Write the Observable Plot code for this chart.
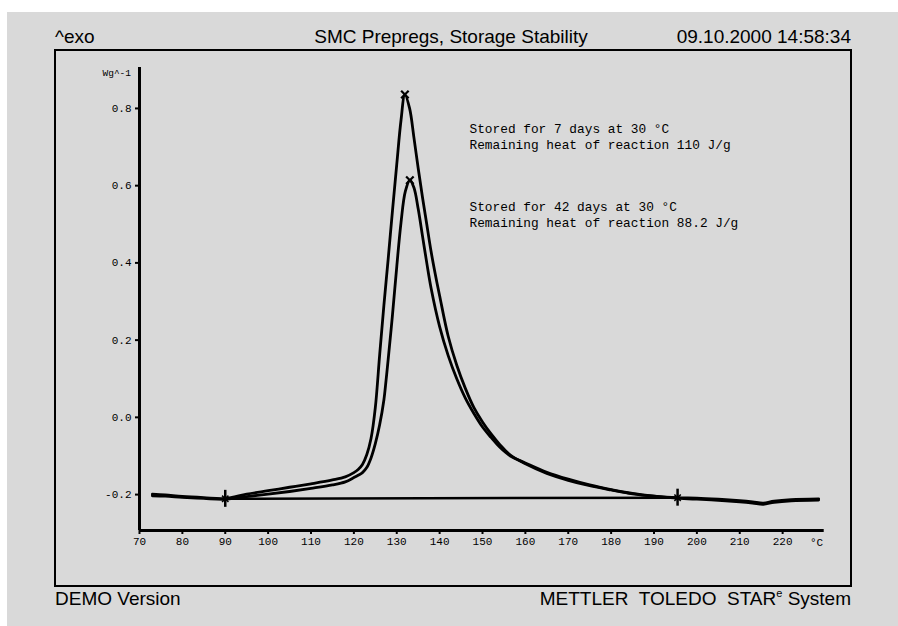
<!DOCTYPE html>
<html><head><meta charset="utf-8">
<script src="https://cdn.jsdelivr.net/npm/d3@7"></script>
<script src="https://cdn.jsdelivr.net/npm/@observablehq/plot@0.6"></script>
<style>
body{margin:0;background:#fff;width:898px;height:626px;overflow:hidden;position:relative;font-family:"Liberation Sans",Arial,sans-serif;color:#000}
#bg{position:absolute;left:7px;top:12px;right:0;bottom:0;background:#d9d9d9}
#frame{position:absolute;left:54px;top:49px;width:794px;height:534px;border:2px solid #000}
.t{position:absolute;font-size:19px;line-height:19px;white-space:pre}
#chart{position:absolute;left:0;top:0}
.unit{position:absolute;font-family:"Liberation Mono",monospace;white-space:pre}
sup{font-size:11px;vertical-align:8px;line-height:0}
</style></head>
<body>
<div id="bg"></div>
<div id="frame"></div>
<div class="t" style="left:55px;top:27px">^exo</div>
<div class="t" style="left:251px;top:27px;width:400px;text-align:center">SMC Prepregs, Storage Stability</div>
<div class="t" style="right:47px;top:27px;text-align:right">09.10.2000 14:58:34</div>
<div class="t" style="left:55px;top:589px">DEMO Version</div>
<div class="t" style="right:47px;top:589px;text-align:right">METTLER  TOLEDO  STAR<sup>e</sup> System</div>
<div id="chart"></div>
<div class="unit" style="right:767px;top:68px;font-size:9.5px">Wg^-1</div>
<div class="unit" style="left:810px;top:537px;font-size:11px">°C</div>
<script>
// Temperature (°C) and heat flow (W/g) — 7 days storage
const tempA = [73, 76, 80, 85, 90, 95, 100, 105, 110, 115, 118, 120, 121, 122, 123, 124, 125, 126, 127, 128, 129, 130, 131, 131.9, 133, 134, 135, 136, 137, 138, 139, 140, 142, 144, 146, 148, 150, 152, 154, 156.5, 160, 165, 170, 175, 180, 185, 190, 195.5, 200, 205, 210, 213, 215.5, 218, 222, 228.4];
const valA  = [-0.199, -0.201, -0.205, -0.208, -0.210, -0.199, -0.190, -0.181, -0.172, -0.162, -0.154, -0.143, -0.135, -0.122, -0.097, -0.055, 0.025, 0.16, 0.29, 0.41, 0.535, 0.655, 0.77, 0.836, 0.80, 0.725, 0.645, 0.57, 0.50, 0.43, 0.37, 0.315, 0.21, 0.135, 0.075, 0.025, -0.012, -0.043, -0.07, -0.098, -0.12, -0.145, -0.163, -0.177, -0.188, -0.198, -0.204, -0.208, -0.209, -0.212, -0.216, -0.219, -0.222, -0.217, -0.213, -0.211];
// 42 days storage
const tempB = [73, 76, 80, 85, 90, 95, 100, 105, 110, 115, 118, 120, 121, 122, 123, 124, 125, 126, 127, 127.5, 128, 129, 130, 131, 132, 133.06, 134, 135, 136, 137, 138, 140, 142, 144, 146, 148, 150, 152, 154, 156.5, 160, 165, 170, 175, 180, 185, 190, 195.5, 200, 205, 210, 213, 215.5, 218, 222, 228.4];
const valB  = [-0.203, -0.204, -0.207, -0.210, -0.212, -0.205, -0.199, -0.192, -0.184, -0.175, -0.167, -0.156, -0.150, -0.143, -0.130, -0.105, -0.068, -0.02, 0.045, 0.095, 0.15, 0.265, 0.39, 0.505, 0.585, 0.614, 0.595, 0.54, 0.47, 0.40, 0.335, 0.235, 0.16, 0.10, 0.05, 0.01, -0.025, -0.052, -0.077, -0.10, -0.118, -0.142, -0.160, -0.175, -0.187, -0.197, -0.204, -0.209, -0.212, -0.215, -0.219, -0.222, -0.225, -0.220, -0.216, -0.214];
// integration limits and peak markers
const limitT = [90, 195.5];
const limitV = [-0.211, -0.208];
const peakT = [131.9, 133.06];
const peakV = [0.836, 0.614];
// axes
const xTicks = [70, 80, 90, 100, 110, 120, 130, 140, 150, 160, 170, 180, 190, 200, 210, 220];
const yTicks = [-0.2, 0.0, 0.2, 0.4, 0.6, 0.8];
const xExtent = [70, 229.7];
const yExtent = [-0.293, 0.906];
// annotations
const annoText = ["Stored for 7 days at 30 °C\nRemaining heat of reaction 110 J/g",
                  "Stored for 42 days at 30 °C\nRemaining heat of reaction 88.2 J/g"];
const annoT = [146.97, 146.97];
const annoV = [0.728, 0.526];

const A = tempA.map((t, i) => ({t, v: valA[i]}));
const B = tempB.map((t, i) => ({t, v: valB[i]}));
const limits = limitT.map((t, i) => ({t, v: limitV[i]}));
const peaks = peakT.map((t, i) => ({t, v: peakV[i]}));
const annos = annoText.map((text, i) => ({text, t: annoT[i], v: annoV[i]}));

const plot = Plot.plot({
  width: 898, height: 626,
  marginLeft: 139, marginRight: 73, marginTop: 67, marginBottom: 96,
  x: {domain: [70, 230]},
  y: {domain: yExtent},
  style: {background: "transparent", fontFamily: "Liberation Mono, monospace", fontSize: "11px", color: "#000", overflow: "visible"},
  marks: [
    Plot.axisX({ticks: xTicks, tickSize: 4, tickPadding: 3, strokeWidth: 2, tickFormat: d => String(d), label: null, fill: "#000"}),
    Plot.axisY({ticks: yTicks, tickSize: 4, tickPadding: 4, strokeWidth: 2, tickFormat: d => d.toFixed(1), label: null, fill: "#000"}),
    Plot.ruleX([xExtent[0]], {y1: yExtent[0], y2: yExtent[1], strokeWidth: 3}),
    Plot.ruleY([yExtent[0]], {x1: xExtent[0], x2: xExtent[1], strokeWidth: 3}),
    Plot.line(limits, {x: "t", y: "v", stroke: "#000", strokeWidth: 2.5}),
    Plot.line(A, {x: "t", y: "v", stroke: "#000", strokeWidth: 2.8, curve: "catmull-rom"}),
    Plot.line(B, {x: "t", y: "v", stroke: "#000", strokeWidth: 2.8, curve: "catmull-rom"}),
    Plot.ruleX(limits, {x: "t", y1: d => d.v - 0.022, y2: d => d.v + 0.022, strokeWidth: 2.5}),
    Plot.dot(limits, {x: "t", y: "v", symbol: "times", r: 3, stroke: "#000", strokeWidth: 1.5}),
    Plot.dot(peaks, {x: "t", y: "v", symbol: "times", r: 3.5, stroke: "#000", strokeWidth: 2.2}),
    Plot.text(annos, {x: "t", y: "v", text: "text", textAnchor: "start", lineHeight: 1.2, fontSize: 12.8, fontFamily: "Liberation Mono, monospace", fill: "#000"})
  ]
});
document.getElementById("chart").appendChild(plot);
</script>
</body></html>
